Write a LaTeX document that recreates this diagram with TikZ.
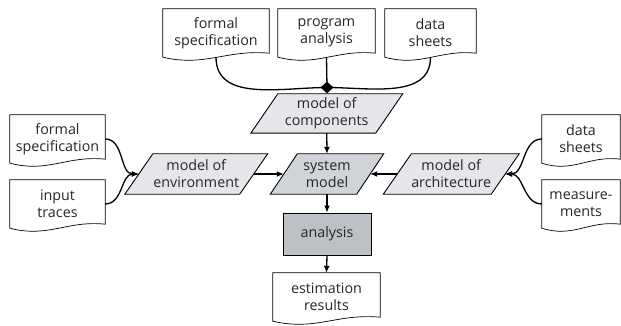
\documentclass[tikz,border=0pt]{standalone}
\usepackage{fontspec}
\setmainfont{Open Sans}
\usetikzlibrary{arrows.meta,shapes.geometric,backgrounds,calc}
\definecolor{lightg}{RGB}{229,230,234}
\definecolor{midg}{RGB}{208,211,216}
\definecolor{darkg}{RGB}{189,192,197}
\newcommand\paraoutline[3]{%
  \draw[shapeline, fill=#3] ([xshift=#2]#1.north west) -- ([xshift=#2]#1.north east)
    -- ([xshift=-#2]#1.south east) -- ([xshift=-#2]#1.south west) -- cycle;}
\newcommand\docoutline[1]{%
  \draw[docline, fill=white] (#1.south west) -- (#1.north west) -- (#1.north east)
    -- ([yshift=4pt]#1.south east)
    .. controls ($(#1.south west)!0.6!(#1.south east)+(0pt,8pt)$)
    and ($(#1.south west)!0.4!(#1.south east)+(0pt,-10pt)$) .. (#1.south west) -- cycle;}
\begin{document}
\begin{tikzpicture}[x=1pt,y=-1pt,
  lbl/.style={inner sep=0pt, align=center, font=\fontsize{14.3}{17}\selectfont, text=black!85},
  shapeline/.style={draw=black, line width=0.9pt},
  docline/.style={draw=black, line width=0.7pt},
  conn/.style={draw=black, line width=1.3pt},
  arr/.style={conn, -{Latex[length=7pt,width=6pt]}}]
\useasboundingbox (0,0) rectangle (621,326);
% top documents
\node[lbl, minimum width=106pt, minimum height=48pt] (d1) at (216,33) {formal\\specification};
\node[lbl, minimum width=97pt, minimum height=48pt] (d2) at (326.5,33) {program\\analysis};
\node[lbl, minimum width=91pt, minimum height=48pt] (d3) at (430.5,33) {data\\sheets};
% junction
\node[diamond, fill=black, inner sep=0pt, minimum width=13pt, minimum height=12pt] (j) at (327,87.5) {};
% parallelograms
\node[lbl, minimum width=124.5pt, minimum height=39pt] (comp) at (326.75,113.5) {model of\\components};
\node[lbl, minimum width=114.5pt, minimum height=40pt] (env) at (196.25,174) {model of\\environment};
\node[lbl, minimum width=86pt, minimum height=40pt] (sys) at (327,174) {system\\model};
\node[lbl, minimum width=107.5pt, minimum height=40pt] (arch) at (451.25,174) {model of\\architecture};
% side documents
\node[lbl, minimum width=95pt, minimum height=48pt] (fs) at (57.5,139) {formal\\specification};
\node[lbl, minimum width=95pt, minimum height=48pt] (it) at (57.5,204) {input\\traces};
\node[lbl, minimum width=78pt, minimum height=48pt] (ds) at (581,139) {data\\sheets};
\node[lbl, minimum width=78pt, minimum height=48pt] (ms) at (581,204) {measure-\\ments};
% analysis and results
\node[lbl, shapeline, fill=darkg, minimum width=88pt, minimum height=42pt] (ana) at (327,234) {analysis};
\node[lbl, minimum width=107pt, minimum height=48pt] (est) at (326.5,297) {estimation\\results};
\begin{scope}[on background layer]
  \docoutline{d1}\docoutline{d2}\docoutline{d3}
  \docoutline{fs}\docoutline{it}\docoutline{ds}\docoutline{ms}\docoutline{est}
  \paraoutline{comp}{13.5pt}{lightg}
  \paraoutline{env}{14pt}{lightg}
  \paraoutline{sys}{13.5pt}{midg}
  \paraoutline{arch}{14pt}{lightg}
\end{scope}
% connectors
\draw[conn] (d1.south) to[out=-90,in=180] (j.center);
\draw[conn] (d2.south) -- (j.center);
\draw[conn] (d3.south) to[out=-90,in=0] (j.center);
\draw[arr] (fs.east) to[out=0,in=180] (env.west);
\draw[arr] (it.east) to[out=0,in=180] (env.west);
\draw[arr] (ds.west) to[out=180,in=0] (arch.east);
\draw[arr] (ms.west) to[out=180,in=0] (arch.east);
\draw[arr] (comp.south) -- (sys.north);
\draw[arr] (env.east) -- (sys.west);
\draw[arr] (arch.west) -- (sys.east);
\draw[arr] (sys.south) -- (ana.north);
\draw[arr] (ana.south) -- (est.north);
\end{tikzpicture}
\end{document}
